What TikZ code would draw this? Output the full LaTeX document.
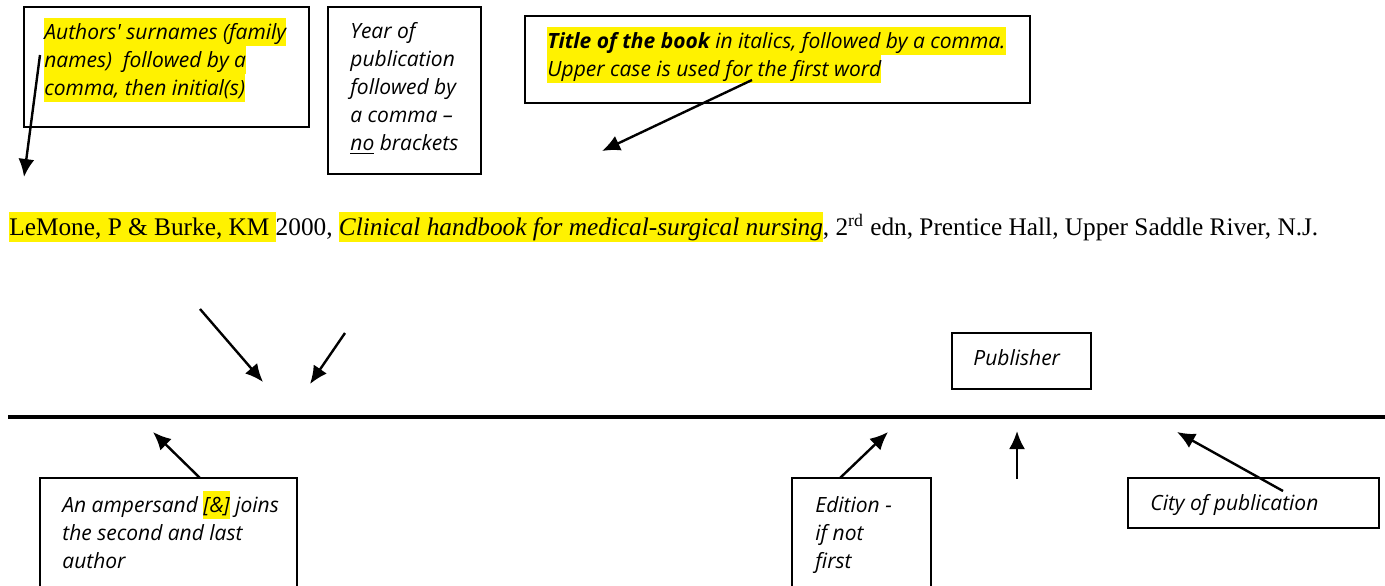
\documentclass[tikz,border=0pt]{standalone}
\usepackage{fontspec}
\setmainfont{Liberation Serif}
\newfontfamily\notefont{Open Sans}
\usetikzlibrary{arrows.meta}
\usetikzlibrary{fit}
\usetikzlibrary{positioning}

% yellow highlight, one line at a time
\newcommand{\hlnote}[1]{{\setlength{\fboxsep}{0pt}\colorbox{yellow}{\rule[-3.5pt]{0pt}{14pt}#1}}}
\newcommand{\hlref}[1]{{\setlength{\fboxsep}{0pt}\colorbox{yellow}{\rule[-3.6pt]{0pt}{15pt}#1}}}
\newcommand{\lead}{\rule{0pt}{10.5pt}}

\begin{document}
\begin{tikzpicture}[x=0.5pt, y=-0.5pt,
  box/.style={draw, line width=0.7pt, inner sep=0pt},
  note/.style={anchor=north west, inner sep=0pt, align=left,
    font={\notefont\fontsize{10.5pt}{14pt}\selectfont\itshape}},
  arr/.style={-{Latex[length=9pt,width=8pt]}, line width=1.2pt}]
  \useasboundingbox (0,0) rectangle (1385,585);
  \clip (0,0) rectangle (1385,585);

  % boxes above the reference
  \node[box, fit={(24,7) (309,127)}] (authors) {};
  \node[note] (authorstxt) at (44,18) {\hlnote{Authors' surnames (family}\\
    \hlnote{names)~ followed by a}\\ \hlnote{comma, then initial(s)}};
  \node[box, fit={(328,7) (481,174)}] (year) {};
  \node[note] (yeartxt) at (350,17) {\lead Year of\\ publication\\ followed by\\
    a comma \textendash\\ \underline{no} brackets};
  \node[box, fit={(525,16) (1030,103)}] (title) {};
  \node[note] (titletxt) at (547,27) {\hlnote{\textbf{Title of the book} in italics, followed by a comma.}\\
    \hlnote{Upper case is used for the first word}};

  % the reference itself
  \node[anchor=base west, inner sep=0pt, font=\fontsize{12.65pt}{15pt}\selectfont] (ref) at (9,235)
    {\hlref{LeMone, P \& Burke, KM }2000, \hlref{\textit{Clinical handbook for medical-surgical nursing}},
     2\textsuperscript{rd} edn, Prentice Hall, Upper Saddle River, N.J.};

  \coordinate (rulestart) at (8,417);
  \coordinate (ruleend) at (1385,417);
  \draw[line width=1.7pt] (rulestart) -- (ruleend);

  % boxes below the rule
  \node[box, fit={(40,478) (297,600)}] (amp) {};
  \node[note] (amptxt) at (62,491) {\lead An ampersand \hlnote{[\&]} joins\\
    the second and last\\ author};
  \node[box, fit={(792,478) (931,600)}] (edition) {};
  \node[note] (editiontxt) at (815,491) {\lead Edition -\\ if not\\ first};
  \node[box, fit={(952,333) (1091,389)}] (publisher) {};
  \node[note] (publishertxt) at (973,344) {\lead Publisher};
  \node[box, fit={(1128,478) (1379,528)}] (city) {};
  \node[note] (citytxt) at (1150,489) {\lead City of publication};

  % arrow ends
  \coordinate (authorstail) at (40,55);
  \coordinate (authorstip) at (24,177);
  \coordinate (titletail) at (752,80);
  \coordinate (titletip) at (602,151);
  \coordinate (lefttail) at (200,309);
  \coordinate (lefttip) at (263,382);
  \coordinate (righttail) at (345,333);
  \coordinate (righttip) at (310,384);
  \coordinate (amptail) at (200,478);
  \coordinate (amptip) at (153,432);
  \coordinate (editiontail) at (840,478);
  \coordinate (editiontip) at (888,432);
  \coordinate (uptail) at (1017,479);
  \coordinate (uptip) at (1017,431);
  \coordinate (citytail) at (1283,491);
  \coordinate (citytip) at (1177,432);

  \draw[arr] (authorstail) -- (authorstip);
  \draw[arr] (titletail) -- (titletip);
  \draw[arr] (lefttail) -- (lefttip);
  \draw[arr] (righttail) -- (righttip);
  \draw[arr] (amptail) -- (amptip);
  \draw[arr] (editiontail) -- (editiontip);
  \draw[arr] (uptail) -- (uptip);
  \draw[arr] (citytail) -- (citytip);
\end{tikzpicture}
\end{document}
